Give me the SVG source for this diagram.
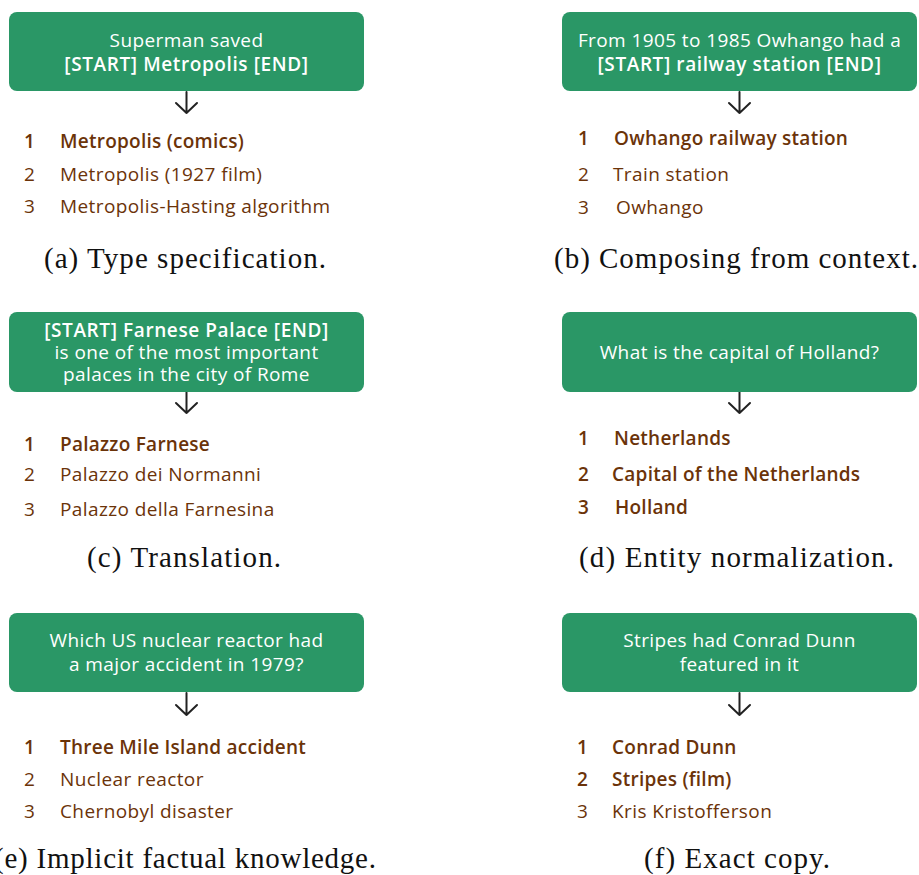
<svg xmlns="http://www.w3.org/2000/svg" width="919" height="875" viewBox="0 0 919 875">
  <defs>
    <style>
      .box { fill: #2a9766; }
      .q { font-family: "Open Sans", Lato, sans-serif; font-size: 19px; letter-spacing: 0.4px; fill: #ffffff; text-anchor: middle; }
      .qb { font-weight: 600; letter-spacing: 0.6px; }
      .n { font-family: "Open Sans", Lato, sans-serif; font-size: 19px; letter-spacing: 0.4px; fill: #6b3309; }
      .b { font-weight: 600; letter-spacing: 0.25px; }
      .cap { font-family: "Liberation Serif", "DejaVu Serif", serif; font-size: 29px; fill: #111111; text-anchor: middle; }
      .arrow { fill: none; stroke: #222222; stroke-width: 2; stroke-linecap: round; stroke-linejoin: round; }
    </style>
  </defs>
  <rect width="919" height="875" fill="#ffffff"/>

  <!-- connectors: query box to ranked list -->
  <g id="connectors">
    <path class="arrow" d="M186.5 92 V113 M176 103 L186.5 113 L197 103"/>
    <path class="arrow" d="M739.5 92 V113 M729 103 L739.5 113 L750 103"/>
    <path class="arrow" d="M186.5 392 V413 M176 403 L186.5 413 L197 403"/>
    <path class="arrow" d="M739.5 392 V413 M729 403 L739.5 413 L750 403"/>
    <path class="arrow" d="M186.5 693 V715 M176 705 L186.5 715 L197 705"/>
    <path class="arrow" d="M739.5 693 V715 M729 705 L739.5 715 L750 705"/>
  </g>

  <!-- (a) -->
  <g id="node-a">
    <rect class="box" x="9" y="12" width="355" height="79" rx="8"/>
    <text class="q" x="186.5" y="47">Superman saved</text>
    <text class="q qb" x="186.5" y="71">[START] Metropolis [END]</text>
  </g>
  <g id="list-a">
    <text class="n b" x="24" y="148">1</text>
    <text class="n b" x="60" y="148">Metropolis (comics)</text>
    <text class="n" x="24" y="181">2</text>
    <text class="n" x="60" y="181">Metropolis (1927 film)</text>
    <text class="n" x="24" y="213">3</text>
    <text class="n" x="60" y="213">Metropolis-Hasting algorithm</text>
    <text class="cap" x="185" y="268" textLength="282" lengthAdjust="spacing">(a) Type specification.</text>
  </g>

  <!-- (b) -->
  <g id="node-b">
    <rect class="box" x="562" y="12" width="355" height="79" rx="8"/>
    <text class="q" x="739.5" y="47">From 1905 to 1985 Owhango had a</text>
    <text class="q qb" x="739.5" y="71">[START] railway station [END]</text>
  </g>
  <g id="list-b">
    <text class="n b" x="578" y="145">1</text>
    <text class="n b" x="614" y="145">Owhango railway station</text>
    <text class="n" x="578" y="181">2</text>
    <text class="n" x="613" y="181">Train station</text>
    <text class="n" x="578" y="214">3</text>
    <text class="n" x="616" y="214">Owhango</text>
    <text class="cap" x="736" y="268" textLength="364" lengthAdjust="spacing">(b) Composing from context.</text>
  </g>

  <!-- (c) -->
  <g id="node-c">
    <rect class="box" x="9" y="312" width="355" height="80" rx="8"/>
    <text class="q qb" x="186.5" y="337">[START] Farnese Palace [END]</text>
    <text class="q" x="186.5" y="359">is one of the most important</text>
    <text class="q" x="186.5" y="381">palaces in the city of Rome</text>
  </g>
  <g id="list-c">
    <text class="n b" x="24" y="451">1</text>
    <text class="n b" x="60" y="451">Palazzo Farnese</text>
    <text class="n" x="24" y="481">2</text>
    <text class="n" x="60" y="481">Palazzo dei Normanni</text>
    <text class="n" x="24" y="516">3</text>
    <text class="n" x="60" y="516">Palazzo della Farnesina</text>
    <text class="cap" x="184" y="567" textLength="194" lengthAdjust="spacing">(c) Translation.</text>
  </g>

  <!-- (d) -->
  <g id="node-d">
    <rect class="box" x="562" y="312" width="355" height="80" rx="8"/>
    <text class="q" x="739.5" y="359">What is the capital of Holland?</text>
  </g>
  <g id="list-d">
    <text class="n b" x="578" y="445">1</text>
    <text class="n b" x="614" y="445">Netherlands</text>
    <text class="n b" x="578" y="481">2</text>
    <text class="n b" x="612" y="481">Capital of the Netherlands</text>
    <text class="n b" x="578" y="514">3</text>
    <text class="n b" x="615" y="514">Holland</text>
    <text class="cap" x="736.5" y="567" textLength="315" lengthAdjust="spacing">(d) Entity normalization.</text>
  </g>

  <!-- (e) -->
  <g id="node-e">
    <rect class="box" x="9" y="613" width="355" height="79" rx="8"/>
    <text class="q" x="186.5" y="647">Which US nuclear reactor had</text>
    <text class="q" x="186.5" y="671">a major accident in 1979?</text>
  </g>
  <g id="list-e">
    <text class="n b" x="24" y="754">1</text>
    <text class="n b" x="60" y="754">Three Mile Island accident</text>
    <text class="n" x="24" y="786">2</text>
    <text class="n" x="60" y="786">Nuclear reactor</text>
    <text class="n" x="24" y="818">3</text>
    <text class="n" x="60" y="818">Chernobyl disaster</text>
    <text class="cap" x="185" y="868" textLength="382" lengthAdjust="spacing">(e) Implicit factual knowledge.</text>
  </g>

  <!-- (f) -->
  <g id="node-f">
    <rect class="box" x="562" y="613" width="355" height="79" rx="8"/>
    <text class="q" x="739.5" y="647">Stripes had Conrad Dunn</text>
    <text class="q" x="739.5" y="671">featured in it</text>
  </g>
  <g id="list-f">
    <text class="n b" x="577" y="754">1</text>
    <text class="n b" x="612" y="754">Conrad Dunn</text>
    <text class="n b" x="577" y="786">2</text>
    <text class="n b" x="612" y="786">Stripes (film)</text>
    <text class="n" x="577" y="818">3</text>
    <text class="n" x="612" y="818">Kris Kristofferson</text>
    <text class="cap" x="737" y="868" textLength="186" lengthAdjust="spacing">(f) Exact copy.</text>
  </g>
</svg>
